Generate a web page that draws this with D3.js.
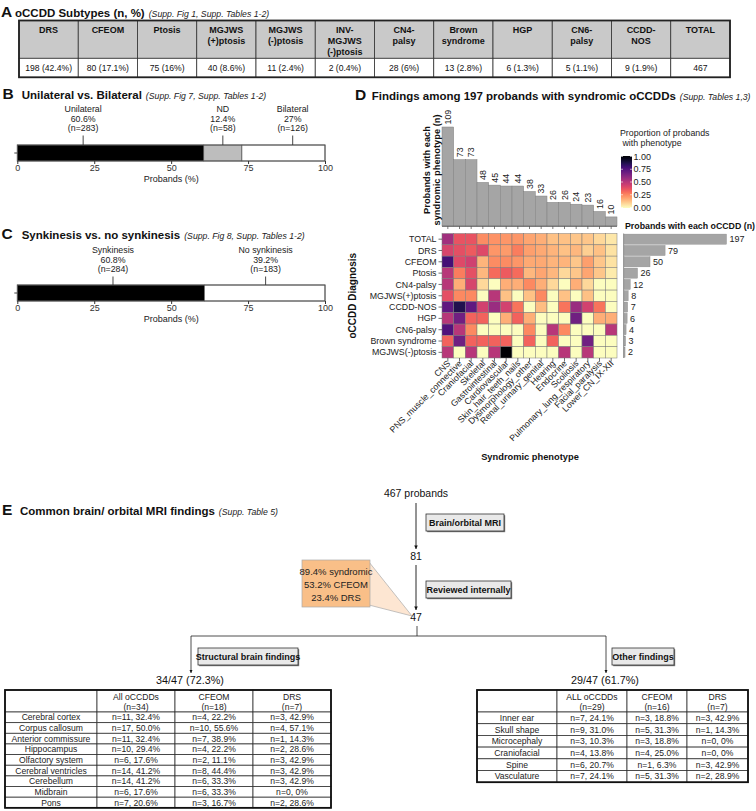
<!DOCTYPE html>
<html><head><meta charset="utf-8">
<script src="https://cdn.jsdelivr.net/npm/d3@7"></script>
<style>body{margin:0;background:#fff;} svg{display:block;font-family:"Liberation Sans",Arial,Helvetica,sans-serif;}</style>
</head><body><svg id="c" width="756" height="811"></svg>
<script>
// ---------------- DATA ----------------
// Panel A
const subtypeHeaders = [["DRS"],["CFEOM"],["Ptosis"],["MGJWS","(+)ptosis"],["MGJWS","(-)ptosis"],["INV-","MGJWS","(-)ptosis"],["CN4-","palsy"],["Brown","syndrome"],["HGP"],["CN6-","palsy"],["CCDD-","NOS"],["TOTAL"]];
const subtypeValues = ["198 (42.4%)","80 (17.1%)","75 (16%)","40 (8.6%)","11 (2.4%)","2 (0.4%)","28 (6%)","13 (2.8%)","6 (1.3%)","5 (1.1%)","9 (1.9%)","467"];
// Panel B
const lateralityCats = ["Unilateral","ND","Bilateral"];
const lateralityPct = [60.6, 12.4, 27];
const lateralityN = [283, 58, 126];
const lateralityLabelAt = [21.4, 66.8, 89.5];
const lateralityFill = ["#000000","#bdbdbd","#ffffff"];
// Panel C
const synkCats = ["Synkinesis","No synkinesis"];
const synkPct = [60.8, 39.2];
const synkN = [284, 183];
const synkLabelAt = [31.1, 80.7];
const synkFill = ["#000000","#ffffff"];
const pctTicks = [0, 25, 50, 75, 100];
// Panel D
const phenotypes = ["CNS","PNS_muscle_connective","Craniofacial","Skeletal","Gastrointestinal","Cardiovascular","Skin_hair_teeth_nails","Dysmorphology_other","Renal_urinary_genital","Hearing","Endocrine","Scoliosis","Pulmonary_lung_respiratory","Facial_paralysis","Lower_CN_IX-XII"];
const phenotypeCounts = [109,73,73,48,45,44,44,38,33,26,26,24,23,16,10];
const diagnoses = ["TOTAL","DRS","CFEOM","Ptosis","CN4-palsy","MGJWS(+)ptosis","CCDD-NOS","HGP","CN6-palsy","Brown syndrome","MGJWS(-)ptosis"];
const diagnosisCounts = [197,79,50,26,12,8,7,6,4,3,2];
const propTOTAL = [0.55,0.37,0.37,0.24,0.23,0.22,0.22,0.19,0.17,0.13,0.13,0.12,0.12,0.08,0.05];
const propDRS   = [0.42,0.38,0.35,0.40,0.22,0.21,0.27,0.20,0.18,0.16,0.13,0.15,0.10,0.13,0.06];
const propCFEOM = [0.78,0.40,0.44,0.16,0.24,0.24,0.22,0.18,0.18,0.16,0.16,0.12,0.20,0.12,0.06];
const propPtosis= [0.50,0.27,0.38,0.15,0.31,0.35,0.31,0.15,0.19,0.15,0.08,0.12,0.19,0.12,0.04];
const propCN4   = [0.50,0.17,0.42,0.08,0.00,0.17,0.17,0.25,0.17,0.08,0.00,0.17,0.08,0.00,0.00];
const propMGJWSp= [0.38,0.25,0.25,0.00,0.50,0.13,0.00,0.13,0.25,0.00,0.13,0.00,0.13,0.00,0.00];
const propNOS   = [0.71,0.86,0.71,0.43,0.57,0.43,0.29,0.00,0.14,0.00,0.29,0.57,0.43,0.29,0.00];
const propHGP   = [0.50,0.67,0.33,0.33,0.00,0.17,0.33,0.17,0.00,0.00,0.00,0.67,0.00,0.17,0.17];
const propCN6   = [0.75,0.50,0.25,0.00,0.00,0.00,0.00,0.25,0.00,0.50,0.25,0.00,0.00,0.00,0.50];
const propBrown = [0.33,0.67,0.33,0.33,0.33,0.33,0.00,0.33,0.00,0.33,0.00,0.00,0.67,0.00,0.00];
const propMGJWSm= [0.50,0.00,0.50,0.00,0.50,1.00,0.00,0.00,0.00,0.00,0.50,0.00,0.50,0.00,0.00];
const proportions = [propTOTAL,propDRS,propCFEOM,propPtosis,propCN4,propMGJWSp,propNOS,propHGP,propCN6,propBrown,propMGJWSm];
const legendTicks = [0, 0.25, 0.5, 0.75, 1];
// Panel E
const brainHeaders = [[""],["All oCCDDs","(n=34)"],["CFEOM","(n=18)"],["DRS","(n=7)"]];
const brainFindings = ["Cerebral cortex","Corpus callosum","Anterior commissure","Hippocampus","Olfactory system","Cerebral ventricles","Cerebellum","Midbrain","Pons"];
const brainAll = ["n=11, 32.4%","n=17, 50.0%","n=11, 32.4%","n=10, 29.4%","n=6, 17.6%","n=14, 41.2%","n=14, 41.2%","n=6, 17.6%","n=7, 20.6%"];
const brainCFEOM = ["n=4, 22.2%","n=10, 55.6%","n=7, 38.9%","n=4, 22.2%","n=2, 11.1%","n=8, 44.4%","n=6, 33.3%","n=6, 33.3%","n=3, 16.7%"];
const brainDRS = ["n=3, 42.9%","n=4, 57.1%","n=1, 14.3%","n=2, 28.6%","n=3, 42.9%","n=3, 42.9%","n=3, 42.9%","n=0, 0%","n=2, 28.6%"];
const otherHeaders = [[""],["ALL oCCDDs","(n=29)"],["CFEOM","(n=16)"],["DRS","(n=7)"]];
const otherFindings = ["Inner ear","Skull shape","Microcephaly","Craniofacial","Spine","Vasculature"];
const otherAll = ["n=7, 24.1%","n=9, 31.0%","n=3, 10.3%","n=4, 13.8%","n=6, 20.7%","n=7, 24.1%"];
const otherCFEOM = ["n=3, 18.8%","n=5, 31.3%","n=3, 18.8%","n=4, 25.0%","n=1, 6.3%","n=5, 31.3%"];
const otherDRS = ["n=3, 42.9%","n=1, 14.3%","n=0, 0%","n=0, 0%","n=3, 42.9%","n=2, 28.9%"];
const flowCounts = ["467 probands","81","47"];
const flowSteps = ["Brain/orbital MRI","Reviewed internally"];
const calloutLines = ["89.4% syndromic","53.2% CFEOM","23.4% DRS"];
const branchLabels = ["Structural brain findings","Other findings"];
const branchCounts = ["34/47 (72.3%)","29/47 (61.7%)"];

// ---------------- DRAW ----------------
const NARROW = '"Liberation Sans Narrow","Arial Narrow","Liberation Sans",sans-serif';
const svg = d3.select("#c");
svg.append("rect").attr("width",756).attr("height",811).attr("fill","#fff");
const defs = svg.append("defs");
defs.append("marker").attr("id","arr").attr("viewBox","0 0 10 10").attr("refX",10).attr("refY",5)
  .attr("markerWidth",4).attr("markerHeight",4).attr("orient","auto")
  .append("path").attr("d","M0,0L10,5L0,10Z").attr("fill","#111");

function title(letter, lx, tx, y, main, note) {
  svg.append("text").attr("x",lx).attr("y",y).attr("font-size",15.5).attr("font-weight","bold").attr("fill","#111").text(letter);
  const t = svg.append("text").attr("x",tx).attr("y",y).attr("font-size",11.5).attr("font-weight","bold").attr("fill","#111").text(main);
  const w = t.node().getComputedTextLength();
  svg.append("text").attr("x",tx+w+4).attr("y",y).attr("font-size",8.7).attr("font-style","italic").attr("fill","#222").text(note);
}

// ---- Panel A ----
title("A", 1, 15, 16.5, "oCCDD Subtypes (n, %)", "(Supp. Fig 1, Supp. Tables 1-2)");
{
  const ax = d3.scaleBand().domain(d3.range(subtypeHeaders.length)).range([19,730]);
  const top = 20.5, hh = 37.8, rh = 19;
  const g = svg.append("g");
  g.selectAll("rect.h").data(subtypeHeaders).join("rect").attr("x",(d,i)=>ax(i)).attr("y",top)
    .attr("width",ax.bandwidth()).attr("height",hh).attr("fill","#c9c9c9").attr("stroke","#333").attr("stroke-width",0.8);
  g.selectAll("rect.v").data(subtypeValues).join("rect").attr("x",(d,i)=>ax(i)).attr("y",top+hh)
    .attr("width",ax.bandwidth()).attr("height",rh).attr("fill","#fff").attr("stroke","#333").attr("stroke-width",0.8);
  subtypeHeaders.forEach((lines,i)=>{
    lines.forEach((l,j)=>g.append("text").attr("x",ax(i)+ax.bandwidth()/2).attr("y",top+12.5+j*11.2)
      .attr("text-anchor","middle").attr("font-size",9).attr("font-weight","bold").attr("fill","#111").text(l));
  });
  g.selectAll("text.v").data(subtypeValues).join("text").attr("x",(d,i)=>ax(i)+ax.bandwidth()/2).attr("y",top+hh+13)
    .attr("text-anchor","middle").attr("font-size",8.6).attr("fill","#111").text(d=>d);
  g.append("rect").attr("x",19).attr("y",top).attr("width",711).attr("height",hh+rh).attr("fill","none").attr("stroke","#222").attr("stroke-width",1.8);
}

// ---- Panels B & C ----
const xPct = d3.scaleLinear().domain([0,100]).range([17.3,325]);
function stackBar(cats, pcts, ns, labelAt, fills, barY, labelTop) {
  const g = svg.append("g");
  const ends = d3.cumsum(pcts);
  const starts = ends.map((e,i)=>e-pcts[i]);
  g.selectAll("rect.s").data(cats).join("rect")
    .attr("x",(d,i)=>xPct(starts[i])).attr("y",barY).attr("width",(d,i)=>xPct(Math.min(100,ends[i]))-xPct(starts[i]))
    .attr("height",16).attr("fill",(d,i)=>fills[i]).attr("stroke","#444").attr("stroke-width",0.6);
  g.append("rect").attr("x",xPct(0)).attr("y",barY).attr("width",xPct(100)-xPct(0)).attr("height",16)
    .attr("fill","none").attr("stroke","#555").attr("stroke-width",1);
  g.append("line").attr("x1",xPct(0)-3).attr("x2",xPct(0)).attr("y1",barY+8).attr("y2",barY+8).attr("stroke","#444");
  cats.forEach((c,i)=>{
    const x = xPct(labelAt[i]);
    [c, pcts[i]+"%", "(n="+ns[i]+")"].forEach((t,j)=>g.append("text").attr("x",x).attr("y",labelTop+j*9.6)
      .attr("text-anchor","middle").attr("font-size",8.8).attr("fill","#222").text(t));
    g.append("line").attr("x1",x).attr("x2",x).attr("y1",labelTop+23.5).attr("y2",barY).attr("stroke","#333").attr("stroke-width",0.9);
  });
  const axis = g.append("g").attr("transform",`translate(0,${barY+16})`)
    .call(d3.axisBottom(xPct).tickValues(pctTicks).tickSize(3).tickPadding(1));
  axis.select(".domain").remove();
  axis.selectAll("text").attr("font-size",9).attr("fill","#333").attr("font-family",null);
  axis.selectAll("line").attr("stroke","#333");
  g.append("text").attr("x",(xPct(0)+xPct(100))/2).attr("y",barY+36.5).attr("text-anchor","middle")
    .attr("font-size",9).attr("fill","#222").text("Probands (%)");
}
title("B", 2.5, 21.7, 98.5, "Unilateral vs. Bilateral", "(Supp. Fig 7, Supp. Tables 1-2)");
stackBar(lateralityCats, lateralityPct, lateralityN, lateralityLabelAt, lateralityFill, 145, 112);
title("C", 1.5, 21.7, 239, "Synkinesis vs. no synkinesis", "(Supp. Fig 8, Supp. Tables 1-2)");
stackBar(synkCats, synkPct, synkN, synkLabelAt, synkFill, 285, 253);

// ---- Panel D ----
title("D", 355, 371.7, 100, "Findings among 197 probands with syndromic oCCDDs", "(Supp. Tables 1,3)");
{
  const g = svg.append("g");
  const xH = d3.scaleBand().domain(phenotypes).range([442,617]);
  const yH = d3.scaleBand().domain(diagnoses).range([233.5,358]);
  const yTop = d3.scaleLinear().domain([0,109]).range([226,127]);
  const xR = d3.scaleLinear().domain([0,197]).range([624,726.5]);
  const col = d3.scaleSequential(t=>d3.interpolateMagma(1-t)).domain([0,1]);
  const bw = xH.bandwidth();
  g.selectAll("rect.tb").data(phenotypes).join("rect").attr("x",d=>xH(d)).attr("width",bw)
    .attr("y",(d,i)=>yTop(phenotypeCounts[i])).attr("height",(d,i)=>yTop(0)-yTop(phenotypeCounts[i]))
    .attr("fill","#a5a5a5").attr("stroke","#808080").attr("stroke-width",0.5);
  g.selectAll("text.tb").data(phenotypes).join("text")
    .attr("transform",(d,i)=>`translate(${xH(d)+bw/2+3.3},${yTop(phenotypeCounts[i])-2.5}) rotate(-90)`)
    .attr("font-size",8.8).attr("fill","#222").text((d,i)=>phenotypeCounts[i]);
  g.append("line").attr("x1",442).attr("x2",617).attr("y1",226.3).attr("y2",226.3).attr("stroke","#444").attr("stroke-width",0.8);
  g.selectAll("line.tt").data(phenotypes).join("line").attr("x1",d=>xH(d)+bw/2).attr("x2",d=>xH(d)+bw/2)
    .attr("y1",226.3).attr("y2",229).attr("stroke","#444").attr("stroke-width",0.7);
  const yl = g.append("text").attr("transform","translate(430,170) rotate(-90)").attr("text-anchor","middle")
    .attr("font-size",9.3).attr("font-weight","bold").attr("fill","#111");
  yl.append("tspan").attr("x",0).attr("y",0).text("Probands with each");
  yl.append("tspan").attr("x",0).attr("y",10).text("syndromic phenotype (n)");
  diagnoses.forEach((dg,r)=>{
    g.selectAll(null).data(phenotypes).join("rect").attr("x",d=>xH(d)).attr("y",yH(dg))
      .attr("width",bw).attr("height",yH.bandwidth())
      .attr("fill",(d,c)=>col(proportions[r][c])).attr("stroke","#7a7a7a").attr("stroke-width",0.5);
  });
  g.selectAll("text.rl").data(diagnoses).join("text").attr("x",436.5).attr("y",d=>yH(d)+yH.bandwidth()/2)
    .attr("dy","0.35em").attr("text-anchor","end").attr("font-size",8.8).attr("fill","#222").text(d=>d);
  g.selectAll("line.rt").data(diagnoses).join("line").attr("x1",438.5).attr("x2",442)
    .attr("y1",d=>yH(d)+yH.bandwidth()/2).attr("y2",d=>yH(d)+yH.bandwidth()/2).attr("stroke","#333").attr("stroke-width",0.7);
  g.selectAll("line.ct").data(phenotypes).join("line").attr("x1",d=>xH(d)+bw/2).attr("x2",d=>xH(d)+bw/2)
    .attr("y1",358).attr("y2",361.5).attr("stroke","#333").attr("stroke-width",0.7);
  g.selectAll("text.cl").data(phenotypes).join("text")
    .attr("transform",d=>`translate(${xH(d)+bw/2+3},${364}) rotate(-45)`)
    .attr("text-anchor","end").attr("font-size",8.8).attr("fill","#222").text(d=>d);
  g.append("text").attr("x",530).attr("y",460).attr("text-anchor","middle").attr("font-size",9.3).attr("font-weight","bold").attr("fill","#111").text("Syndromic phenotype");
  g.append("text").attr("transform",`translate(356,${(233.5+358)/2}) rotate(-90)`).attr("text-anchor","middle")
    .attr("font-size",10).attr("font-weight","bold").attr("fill","#111").text("oCCDD Diagnosis");
  g.append("line").attr("x1",623.6).attr("x2",623.6).attr("y1",233.5).attr("y2",358).attr("stroke","#777").attr("stroke-width",0.8);
  g.selectAll("rect.rb").data(diagnoses).join("rect").attr("x",xR(0)).attr("y",d=>yH(d)+0.6)
    .attr("width",(d,i)=>xR(diagnosisCounts[i])-xR(0)).attr("height",yH.bandwidth()-1.2)
    .attr("fill","#a5a5a5").attr("stroke","#8a8a8a").attr("stroke-width",0.4);
  g.selectAll("text.rb").data(diagnoses).join("text").attr("x",(d,i)=>xR(diagnosisCounts[i])+3)
    .attr("y",d=>yH(d)+yH.bandwidth()/2).attr("dy","0.35em").attr("font-size",9).attr("fill","#222").text((d,i)=>diagnosisCounts[i]);
  g.append("text").attr("x",625).attr("y",229).attr("font-size",8.8).attr("font-weight","bold").attr("fill","#111").text("Probands with each oCCDD (n)");
  const grad = defs.append("linearGradient").attr("id","lg").attr("x1",0).attr("y1",1).attr("x2",0).attr("y2",0);
  d3.range(0,1.001,0.05).forEach(t=>grad.append("stop").attr("offset",t).attr("stop-color",col(t)));
  const ly = d3.scaleLinear().domain([0,1]).range([207.5,156.5]);
  g.append("rect").attr("x",621).attr("y",ly(1)-0.5).attr("width",11).attr("height",ly(0)-ly(1)+1).attr("fill","url(#lg)");
  g.selectAll("text.lt").data(legendTicks).join("text").attr("x",633.5).attr("y",d=>ly(d)).attr("dy","0.35em")
    .attr("font-size",9).attr("fill","#222").text(d=>d.toFixed(2));
  legendTicks.forEach(t=>{
    g.append("line").attr("x1",621).attr("x2",623).attr("y1",ly(t)).attr("y2",ly(t)).attr("stroke","#fff").attr("stroke-width",0.6);
    g.append("line").attr("x1",630).attr("x2",632).attr("y1",ly(t)).attr("y2",ly(t)).attr("stroke","#fff").attr("stroke-width",0.6);
  });
  g.append("text").attr("x",620).attr("y",136).attr("font-size",8.8).attr("fill","#222").text("Proportion of probands");
  g.append("text").attr("x",620).attr("y",146).attr("font-size",8.8).attr("fill","#222").attr("xml:space","preserve").text(" with phenotype");
}

// ---- Panel E ----
title("E", 2, 20, 515, "Common brain/ orbital MRI findings", "(Supp. Table 5)");
{
  const g = svg.append("g");
  const fx = 416;
  const cy = [497, 560, 621];
  flowCounts.forEach((t,i)=>g.append("text").attr("x",fx).attr("y",cy[i]).attr("text-anchor","middle")
    .attr("font-size",10.5).attr("fill","#111").text(t));
  [[503,549],[565,610]].forEach(a=>g.append("line").attr("x1",fx).attr("x2",fx).attr("y1",a[0]).attr("y2",a[1])
    .attr("stroke","#111").attr("stroke-width",0.9).attr("marker-end","url(#arr)"));
  function box(x,y,w,h,t){
    g.append("rect").attr("x",x+1.2).attr("y",y+1.2).attr("width",w).attr("height",h).attr("fill","#777");
    g.append("rect").attr("x",x).attr("y",y).attr("width",w).attr("height",h).attr("fill","#e9e9e9").attr("stroke","#333").attr("stroke-width",0.8);
    g.append("text").attr("x",x+w/2).attr("y",y+h/2).attr("dy","0.35em").attr("text-anchor","middle")
      .attr("font-family",NARROW).attr("font-size",9).attr("font-weight","bold").attr("fill","#111").text(t);
  }
  box(426,514,78,17,flowSteps[0]);
  box(426,581,85,17,flowSteps[1]);
  g.append("polygon").attr("points","369,562 412,616 369,605").attr("fill","#fde6d2").attr("stroke","#aaa").attr("stroke-width",0.7);
  g.append("rect").attr("x",302).attr("y",560).attr("width",68).attr("height",47).attr("fill","#f9bf88").attr("stroke","#aaa").attr("stroke-width",0.7);
  calloutLines.forEach((t,i)=>g.append("text").attr("x",336).attr("y",575+i*13).attr("text-anchor","middle")
    .attr("font-family",NARROW).attr("font-size",9.5).attr("fill","#222").text(t));
  const bx = [191, 606];
  g.append("line").attr("x1",fx+1).attr("x2",fx+1).attr("y1",626).attr("y2",636).attr("stroke","#222").attr("stroke-width",0.8);
  g.append("line").attr("x1",bx[0]).attr("x2",bx[1]).attr("y1",636).attr("y2",636).attr("stroke","#222").attr("stroke-width",0.8);
  bx.forEach(x=>g.append("line").attr("x1",x).attr("x2",x).attr("y1",636).attr("y2",673).attr("stroke","#222")
    .attr("stroke-width",0.8).attr("marker-end","url(#arr)"));
  box(198,648,100,17,branchLabels[0]);
  box(612,648,62,17,branchLabels[1]);
  branchCounts.forEach((t,i)=>g.append("text").attr("x",bx[i]-1).attr("y",684).attr("text-anchor","middle")
    .attr("font-size",10.8).attr("fill","#111").text(t));
}
function table(cols, top, hh, rh, headers, columns, fs, hb) {
  const g = svg.append("g");
  const n = columns[0].length;
  const ys = [top, top+hh].concat(d3.range(1,n+1).map(i=>top+hh+i*rh));
  for (let c=0;c<cols.length-1;c++) {
    for (let r=0;r<=n;r++) {
      g.append("rect").attr("x",cols[c]).attr("y",ys[r]).attr("width",cols[c+1]-cols[c]).attr("height",ys[r+1]-ys[r])
        .attr("fill","#fff").attr("stroke","#333").attr("stroke-width",0.8);
    }
    const cx = (cols[c]+cols[c+1])/2;
    headers[c].forEach((l,j)=>g.append("text").attr("x",cx).attr("y",top+hb[j])
      .attr("text-anchor","middle").attr("font-size",fs).attr("fill","#222").text(l));
    columns[c].forEach((t,r)=>g.append("text").attr("x",cx).attr("y",ys[r+1]+rh/2).attr("dy","0.35em")
      .attr("text-anchor","middle").attr("font-size",fs).attr("fill","#222").text(t));
  }
  g.append("rect").attr("x",cols[0]).attr("y",top).attr("width",cols[cols.length-1]-cols[0]).attr("height",ys[n+1]-top)
    .attr("fill","none").attr("stroke","#111").attr("stroke-width",1.8);
}
table([5,97,175,253,331], 690, 22, 10.65, brainHeaders, [brainFindings,brainAll,brainCFEOM,brainDRS], 8.6, [9.5,19.5]);
table([477,557,627,687,748], 690, 22, 11.7, otherHeaders, [otherFindings,otherAll,otherCFEOM,otherDRS], 8.6, [9.5,19.5]);
</script></body></html>
